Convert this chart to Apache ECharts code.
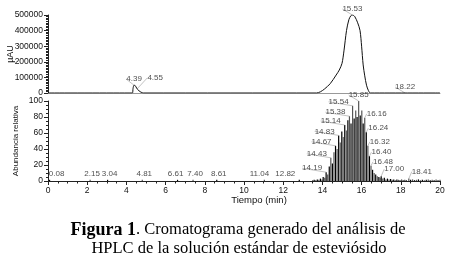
<!DOCTYPE html>
<html><head><meta charset="utf-8">
<script src="https://cdn.jsdelivr.net/npm/echarts@6/dist/echarts.min.js"></script>
<style>html,body{margin:0;padding:0;background:#fff}#c{width:451px;height:262px}</style>
</head><body><div id="c"></div>
<script>
// ---- Top panel: UV trace (µAU vs time, min) ----
const uvTime   = [0, 4.30, 4.34, 4.39, 4.45, 4.52, 4.58, 4.65, 4.75, 4.88, 13.70, 13.90, 14.10, 14.40, 14.70, 14.86, 15.00, 15.10, 15.23, 15.35, 15.45, 15.53, 15.65, 15.80, 15.92, 16.00, 16.08, 16.16, 16.25, 16.35, 16.45, 20];
const uvSignal = [0, 0, 30000, 50000, 47000, 32000, 22000, 13000, 5000, 0, 0, 8000, 25000, 60000, 115000, 147000, 190000, 270000, 400000, 470000, 495000, 500000, 490000, 450000, 400000, 300000, 180000, 110000, 50000, 15000, 0, 0];
const uvPeakTimes  = [4.39, 4.55, 15.53, 18.22];
const uvPeakSignal = [50000, 27000, 500000, 0];

// ---- Bottom panel: relative abundance sticks ----
const msTime  = [0.08, 2.15, 3.04, 4.81, 6.61, 7.40, 8.61, 11.04, 12.82,
  13.50, 13.58, 13.66, 13.74, 13.82, 13.90, 13.98, 14.04, 14.12, 14.19, 14.27, 14.35, 14.43, 14.51, 14.59, 14.67, 14.75, 14.83, 14.91, 14.99,
  15.06, 15.14, 15.22, 15.30, 15.38, 15.46, 15.54, 15.62, 15.70, 15.77, 15.85, 15.93, 16.01, 16.08, 16.16, 16.24, 16.32, 16.40, 16.48, 16.56,
  16.64, 16.72, 16.80, 16.88, 16.94, 17.00, 17.08, 17.16, 17.24, 17.32, 17.40, 17.48, 17.56, 17.64, 17.72, 17.80, 17.88, 17.96, 18.04, 18.12,
  18.20, 18.28, 18.41, 18.50, 18.60, 18.70, 18.80, 18.90, 19.00, 19.10, 19.20, 19.30, 19.40, 19.50, 19.60, 19.70, 19.80, 19.90, 20.00];
const msAbund = [1.5, 1.5, 1.5, 1.5, 1.5, 1.5, 1.5, 1.5, 1.5,
  1, 1.5, 1, 2, 1.5, 3, 2, 5, 4, 11, 8, 18, 29, 22, 36, 44, 40, 57, 48, 62,
  55, 70, 63, 76, 81, 72, 94, 78, 88, 80, 100, 82, 88, 72, 79, 61, 44, 31, 19, 14,
  10, 8, 6, 5, 4, 6, 3, 4, 2, 3, 2, 2.5, 1.5, 2, 1, 2, 1.5, 1, 2, 1,
  1.5, 1, 3, 1.5, 2, 1, 1.5, 2, 1, 1.5, 1, 1.5, 2, 1, 1.5, 1, 2, 1, 1.5];
const msMinorLabels = [0.08, 2.15, 3.04, 4.81, 6.61, 7.40, 8.61, 11.04, 12.82];
const msMainLabels  = [14.19, 14.43, 14.67, 14.83, 15.14, 15.38, 15.54, 15.85, 16.16, 16.24, 16.32, 16.40, 16.48, 17.00, 18.41];

const xTickInterval = 2;
const captionBold = 'Figura 1';
const captionRest = '. Cromatograma generado del análisis de';
const captionLine2 = 'HPLC de la solución estándar de esteviósido';

// ---- layout (label nudges, px) ----
const smallLabelNudge = {'0.08': 7, '6.61': -2, '7.40': 2, '11.04': -5, '12.82': -14};

// ---- build ----
const FONT = "'Liberation Sans', Arial, sans-serif";
const SERIF = "'Liberation Serif', 'Times New Roman', serif";
const uvData = uvTime.map((t, i) => [t, uvSignal[i]]);
const uvPeaks = uvPeakTimes.map((t, i) => [t, uvPeakSignal[i]]);
const msData = msTime.map((t, i) => [t, msAbund[i]]);
const toPoint = t => [t, msAbund[msTime.indexOf(t)]];

const yAxisCommon = {
  nameMoveOverlap: false,
  axisLine: {show: true, lineStyle: {color: '#222'}},
  axisTick: {show: true, length: 4, lineStyle: {color: '#222'}},
  axisLabel: {fontSize: 8.5, color: '#111', margin: 5, fontFamily: FONT, formatter: v => String(v)},
  splitLine: {show: false}
};
const peakLabel = {show: true, position: 'top', distance: 2, fontSize: 8, color: '#222', fontFamily: FONT,
  formatter: p => p.value[0].toFixed(2)};

const chart = echarts.init(document.getElementById('c'), null, {renderer: 'canvas'});
chart.setOption({
  animation: false,
  backgroundColor: '#fff',
  textStyle: {fontFamily: FONT},
  grid: [
    {left: 48, right: 11, top: 15, height: 78, outerBoundsMode: 'none', containLabel: false},
    {left: 48, right: 11, top: 101, height: 80, outerBoundsMode: 'none', containLabel: false}
  ],
  xAxis: [
    {gridIndex: 0, type: 'value', min: 0, max: 20, interval: xTickInterval,
      axisLine: {lineStyle: {color: '#999', width: 1}}, axisTick: {show: false},
      axisLabel: {show: false}, splitLine: {show: false}},
    {gridIndex: 1, type: 'value', min: 0, max: 20, interval: xTickInterval,
      name: 'Tiempo (min)', nameLocation: 'middle', nameGap: 14, nameMoveOverlap: false,
      nameTextStyle: {fontSize: 9.5, color: '#111', fontFamily: FONT, padding: [0, 0, 0, 30]},
      axisLine: {lineStyle: {color: '#222', width: 1}},
      axisTick: {show: true, length: 4, lineStyle: {color: '#222'}},
      minorTick: {show: true, splitNumber: 4, length: 2.5, lineStyle: {color: '#222'}},
      axisLabel: {fontSize: 8.5, color: '#111', margin: 5, fontFamily: FONT},
      splitLine: {show: false}}
  ],
  yAxis: [
    Object.assign({gridIndex: 0, type: 'value', min: 0, max: 500000, interval: 100000,
      name: 'µAU', nameLocation: 'middle', nameGap: 33,
      nameTextStyle: {fontSize: 9, color: '#111', fontFamily: FONT},
      minorTick: {show: true, splitNumber: 10, length: 2, lineStyle: {color: '#222'}}}, yAxisCommon),
    Object.assign({gridIndex: 1, type: 'value', min: 0, max: 100, interval: 20,
      name: 'Abundancia relativa', nameLocation: 'middle', nameGap: 28,
      nameTextStyle: {fontSize: 8, color: '#111', fontFamily: FONT},
      minorTick: {show: true, splitNumber: 4, length: 2, lineStyle: {color: '#222'}}}, yAxisCommon)
  ],
  series: [
    {type: 'line', xAxisIndex: 0, yAxisIndex: 0, data: uvData, smooth: 0.3, showSymbol: false,
      lineStyle: {color: '#111', width: 1}},
    {type: 'scatter', xAxisIndex: 0, yAxisIndex: 0, data: uvPeaks, symbolSize: 0,
      label: peakLabel,
      labelLine: {show: true, lineStyle: {color: '#999', width: 0.6}},
      labelLayout: p => (uvPeakTimes[p.dataIndex] === 4.55 ? {dx: 18, dy: -5} : {})},
    {type: 'bar', xAxisIndex: 1, yAxisIndex: 1, data: msData, barWidth: 1.2,
      itemStyle: {color: p => (p.dataIndex % 2 ? '#555' : '#000')}},
    {type: 'scatter', xAxisIndex: 1, yAxisIndex: 1, data: msMinorLabels.map(toPoint), symbolSize: 0,
      label: peakLabel,
      labelLayout: p => ({dx: smallLabelNudge[msMinorLabels[p.dataIndex].toFixed(2)] || 2})},
    {type: 'scatter', xAxisIndex: 1, yAxisIndex: 1, data: msMainLabels.map(toPoint), symbolSize: 0,
      label: peakLabel,
      labelLine: {show: true, lineStyle: {color: '#999', width: 0.6}},
      labelLayout: p => {
        const t = msMainLabels[p.dataIndex];
        if (t < 15.7) return {dx: -14, dy: 2};
        if (t > 15.9 && t < 16.9) return {dx: 12, dy: 2};
        if (t >= 16.9) return {dx: 13, dy: -1};
        return {};
      }}
  ],
  graphic: [
    {type: 'text', x: 238, y: 230, style: {
      text: '{b|' + captionBold + '}' + captionRest,
      rich: {b: {fontWeight: 'bold', fontSize: 18, fontFamily: SERIF, fill: '#000'}},
      font: '16.5px ' + SERIF, fill: '#000',
      align: 'center', verticalAlign: 'middle'}},
    {type: 'text', x: 239, y: 249, style: {
      text: captionLine2,
      font: '16.5px ' + SERIF, fill: '#000',
      align: 'center', verticalAlign: 'middle'}}
  ]
});
</script></body></html>
